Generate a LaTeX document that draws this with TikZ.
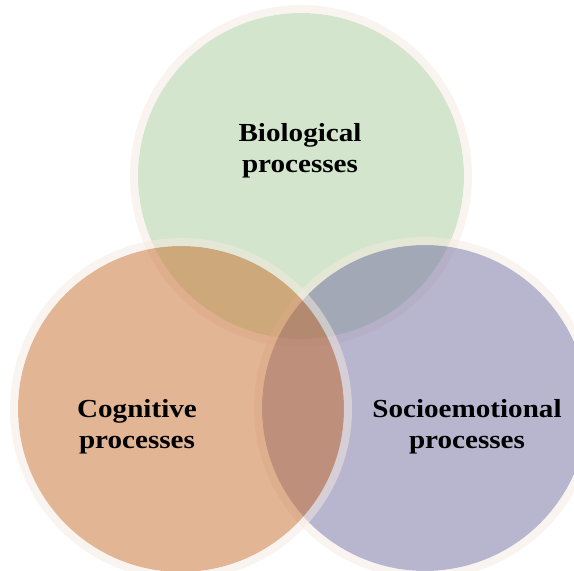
\documentclass[tikz,border=0pt]{standalone}
\usepackage{fontspec}
\setmainfont{Liberation Serif}[FakeStretch=1.12]
\begin{document}
\definecolor{biofill}{RGB}{167,203,153}
\definecolor{cogfill}{RGB}{197,107,43}
\definecolor{socfill}{RGB}{113,109,159}
\definecolor{ringc}{RGB}{245,233,225}
\begin{tikzpicture}[x=1pt, y=1pt,
		blob/.style={fill opacity=0.5},
		ring/.style={line width=8pt, ringc, draw opacity=0.5},
		lbl/.style={align=center, font=\fontsize{26}{31.5}\selectfont\bfseries, text=black, inner sep=0pt}]
		\useasboundingbox (0,0) rectangle (574,571);
		\clip (0,0) rectangle (574,571);
		%biological
		\fill[blob, biofill] (301,395) circle (163);
		\draw[ring] (301,395) circle (167);
		%socioemotional
		\fill[blob, socfill] (425,163) circle (163);
		\draw[ring] (425,163) circle (167);
		%cognitive
		\fill[blob, cogfill] (181,162) circle (163);
		\draw[ring] (181,162) circle (167);
		
		\node[lbl] (bio) at (300,420) {Biological\\processes};
		\node[lbl] (cog) at (137,144) {Cognitive\\processes};
		\node[lbl] (soc) at (467,144) {Socioemotional\\processes};
		\end{tikzpicture}
\end{document}
